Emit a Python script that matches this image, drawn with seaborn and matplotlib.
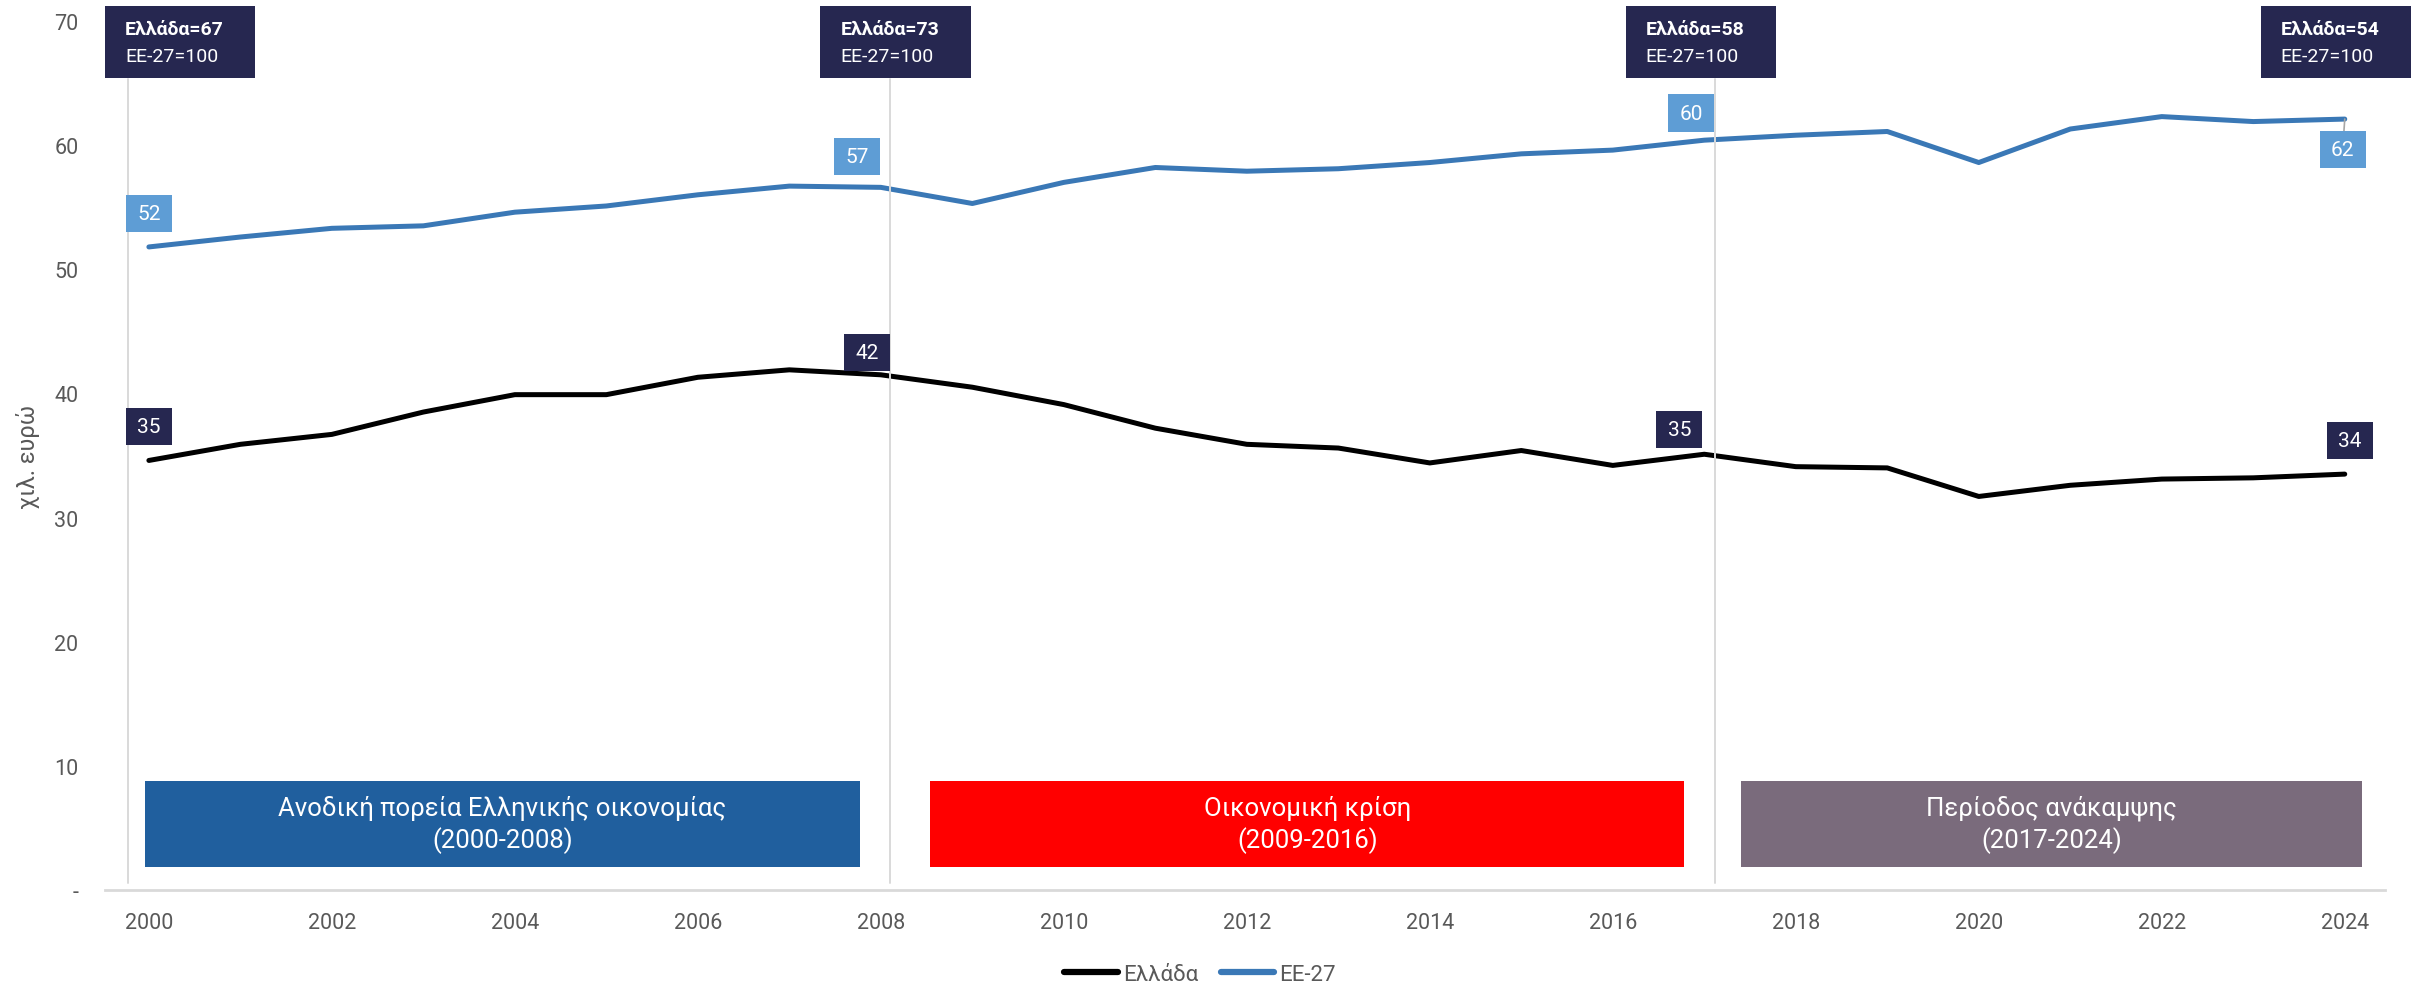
import numpy as np
import pandas as pd
import matplotlib
matplotlib.use("Agg")
import matplotlib.pyplot as plt
import matplotlib.transforms as mtransforms
from matplotlib.patches import Rectangle
from matplotlib.lines import Line2D
from matplotlib.path import Path
import seaborn as sns

# ---------------- data ----------------
years = list(range(2000, 2025))
greece = [34.6, 35.9, 36.7, 38.5, 39.9, 39.9, 41.3, 41.9, 41.5, 40.5, 39.1, 37.2, 35.9,
          35.6, 34.4, 35.4, 34.2, 35.1, 34.1, 34.0, 31.7, 32.6, 33.1, 33.2, 33.5]
eu27 = [51.8, 52.6, 53.3, 53.5, 54.6, 55.1, 56.0, 56.7, 56.6, 55.3, 57.0, 58.2, 57.9,
        58.1, 58.6, 59.3, 59.6, 60.4, 60.8, 61.1, 58.6, 61.3, 62.3, 61.9, 62.1]
series_names = ["Ελλάδα", "ΕΕ-27"]

y_ticks = [0, 10, 20, 30, 40, 50, 60, 70]
y_tick_labels = ["-", "10", "20", "30", "40", "50", "60", "70"]
x_ticks = list(range(2000, 2025, 2))
y_label = "χιλ. ευρώ"

label_years = [2000, 2008, 2017, 2024]
index_greece = [67, 73, 58, 54]
index_eu = 100

period_texts = ["Ανοδική πορεία Ελληνικής οικονομίας\n(2000-2008)",
                "Οικονομική κρίση\n(2009-2016)",
                "Περίοδος ανάκαμψης\n(2017-2024)"]

# ---------------- layout / style ----------------
NAVY = "#262750"
LIGHT_BLUE = "#5E9DD5"
EU_BLUE = "#3A78B6"
GREY_TXT = "#595959"
GRID_GREY = "#D9D9D9"
period_colors = ["#205F9E", "#FF0000", "#7A6B7C"]
period_box_x = [(1999.96, 2007.77), (2008.54, 2016.78), (2017.40, 2024.19)]
period_box_y = (1.85, 8.8)
separator_x = [1999.77, 2008.10, 2017.12]
separator_y = (0.6, 65.3)
index_box_left = [1999.52, 2007.34, 2016.14, 2023.08]
# label offsets in points (dx, dy) for each labelled year
offs_eu = [(0, 24), (-17, 22), (-9.5, 19.5), (-1.5, -22)]
offs_gr = [(0, 24.5), (-10, 16), (-18, 18), (3.6, 24)]


def label_box(x0, y0, width, height, mutation_size, padx=0.54, pady=0.44):
    px = padx * mutation_size
    py = pady * mutation_size
    verts = [(x0 - px, y0 - py), (x0 + width + px, y0 - py),
             (x0 + width + px, y0 + height + py), (x0 - px, y0 + height + py),
             (x0 - px, y0 - py)]
    return Path(verts, closed=True)


sns.set_theme(style="white")
plt.rcParams["font.family"] = ["Roboto", "DejaVu Sans"]

df = pd.DataFrame({
    "year": years * 2,
    "value": greece + eu27,
    "series": [series_names[0]] * len(years) + [series_names[1]] * len(years),
})

fig = plt.figure(figsize=(24.13, 9.87), dpi=100)
ax = fig.add_axes([0.0435, 0.0973, 0.9449, 0.8804])

sns.lineplot(data=df, x="year", y="value", hue="series",
             palette={series_names[0]: "black", series_names[1]: EU_BLUE},
             linewidth=3.6, ax=ax, legend=False, zorder=3)

ax.set_xlim(1999.52, 2024.44)
ax.set_ylim(0, 70)
ax.set_xticks(x_ticks)
ax.set_xticklabels([str(x) for x in x_ticks])
ax.set_yticks(y_ticks)
ax.set_yticklabels(y_tick_labels)
ax.tick_params(axis="both", length=0, labelsize=15.5, labelcolor=GREY_TXT)
ax.tick_params(axis="x", pad=16)
ax.tick_params(axis="y", pad=19)
ax.set_xlabel("")
ax.set_ylabel(y_label, fontsize=17, color=GREY_TXT, labelpad=10)
for s in ["top", "right", "left"]:
    ax.spines[s].set_visible(False)
ax.spines["bottom"].set_color(GRID_GREY)
ax.spines["bottom"].set_linewidth(2)
ax.grid(False)

# separators
for sx in separator_x:
    ax.plot([sx, sx], separator_y, color=GRID_GREY, lw=1.4, zorder=4, clip_on=False)

# period boxes
for (x0, x1), col, txt in zip(period_box_x, period_colors, period_texts):
    ax.add_patch(Rectangle((x0, period_box_y[0]), x1 - x0, period_box_y[1] - period_box_y[0],
                           facecolor=col, edgecolor="none", zorder=2))
    ax.text((x0 + x1) / 2, (period_box_y[0] + period_box_y[1]) / 2, txt,
            ha="center", va="center", color="white", fontsize=18.5,
            linespacing=1.3, zorder=3)

# value labels
for i, yr in enumerate(label_years):
    idx = years.index(yr)
    for vals, offs, fc, lead in [(eu27, offs_eu, LIGHT_BLUE, True), (greece, offs_gr, NAVY, False)]:
        v = vals[idx]
        dx, dy = offs[i]
        kw = {}
        if lead and dy < 0:
            kw["arrowprops"] = dict(arrowstyle="-", color="#A6A6A6", lw=1.2,
                                    shrinkA=0, shrinkB=0)
        ax.annotate(f"{int(np.floor(v + 0.5))}", xy=(yr, v), xytext=(dx, dy),
                    textcoords="offset points", ha="center", va="center",
                    fontsize=15, color="white", zorder=6, annotation_clip=False,
                    bbox=dict(boxstyle=label_box, facecolor=fc, edgecolor="none"),
                    **kw)

# index boxes at top
trans = mtransforms.blended_transform_factory(ax.transData, ax.transAxes)
for xl, g in zip(index_box_left, index_greece):
    ax.add_patch(Rectangle((xl, 0.934), 1.64, 0.083, transform=trans,
                           facecolor=NAVY, edgecolor="none", clip_on=False, zorder=7))
    ax.text(xl + 0.22, 0.9905, f"Ελλάδα={g}", transform=trans, ha="left", va="center",
            fontsize=14, fontweight="bold", color="white", zorder=8, clip_on=False)
    ax.text(xl + 0.22, 0.960, f"ΕΕ-27={index_eu}", transform=trans, ha="left", va="center",
            fontsize=14, color="white", zorder=8, clip_on=False)

# legend
handles = [Line2D([0], [0], color="black", lw=4.5, solid_capstyle="round"),
           Line2D([0], [0], color=EU_BLUE, lw=4.5, solid_capstyle="round")]
fig.legend(handles, series_names, loc="center", bbox_to_anchor=(0.4974, 0.0115), ncol=2,
           frameon=False, fontsize=16, labelcolor=GREY_TXT, handlelength=2.4,
           handletextpad=0.25, columnspacing=1.0)

fig.savefig("out.png", dpi=100)
